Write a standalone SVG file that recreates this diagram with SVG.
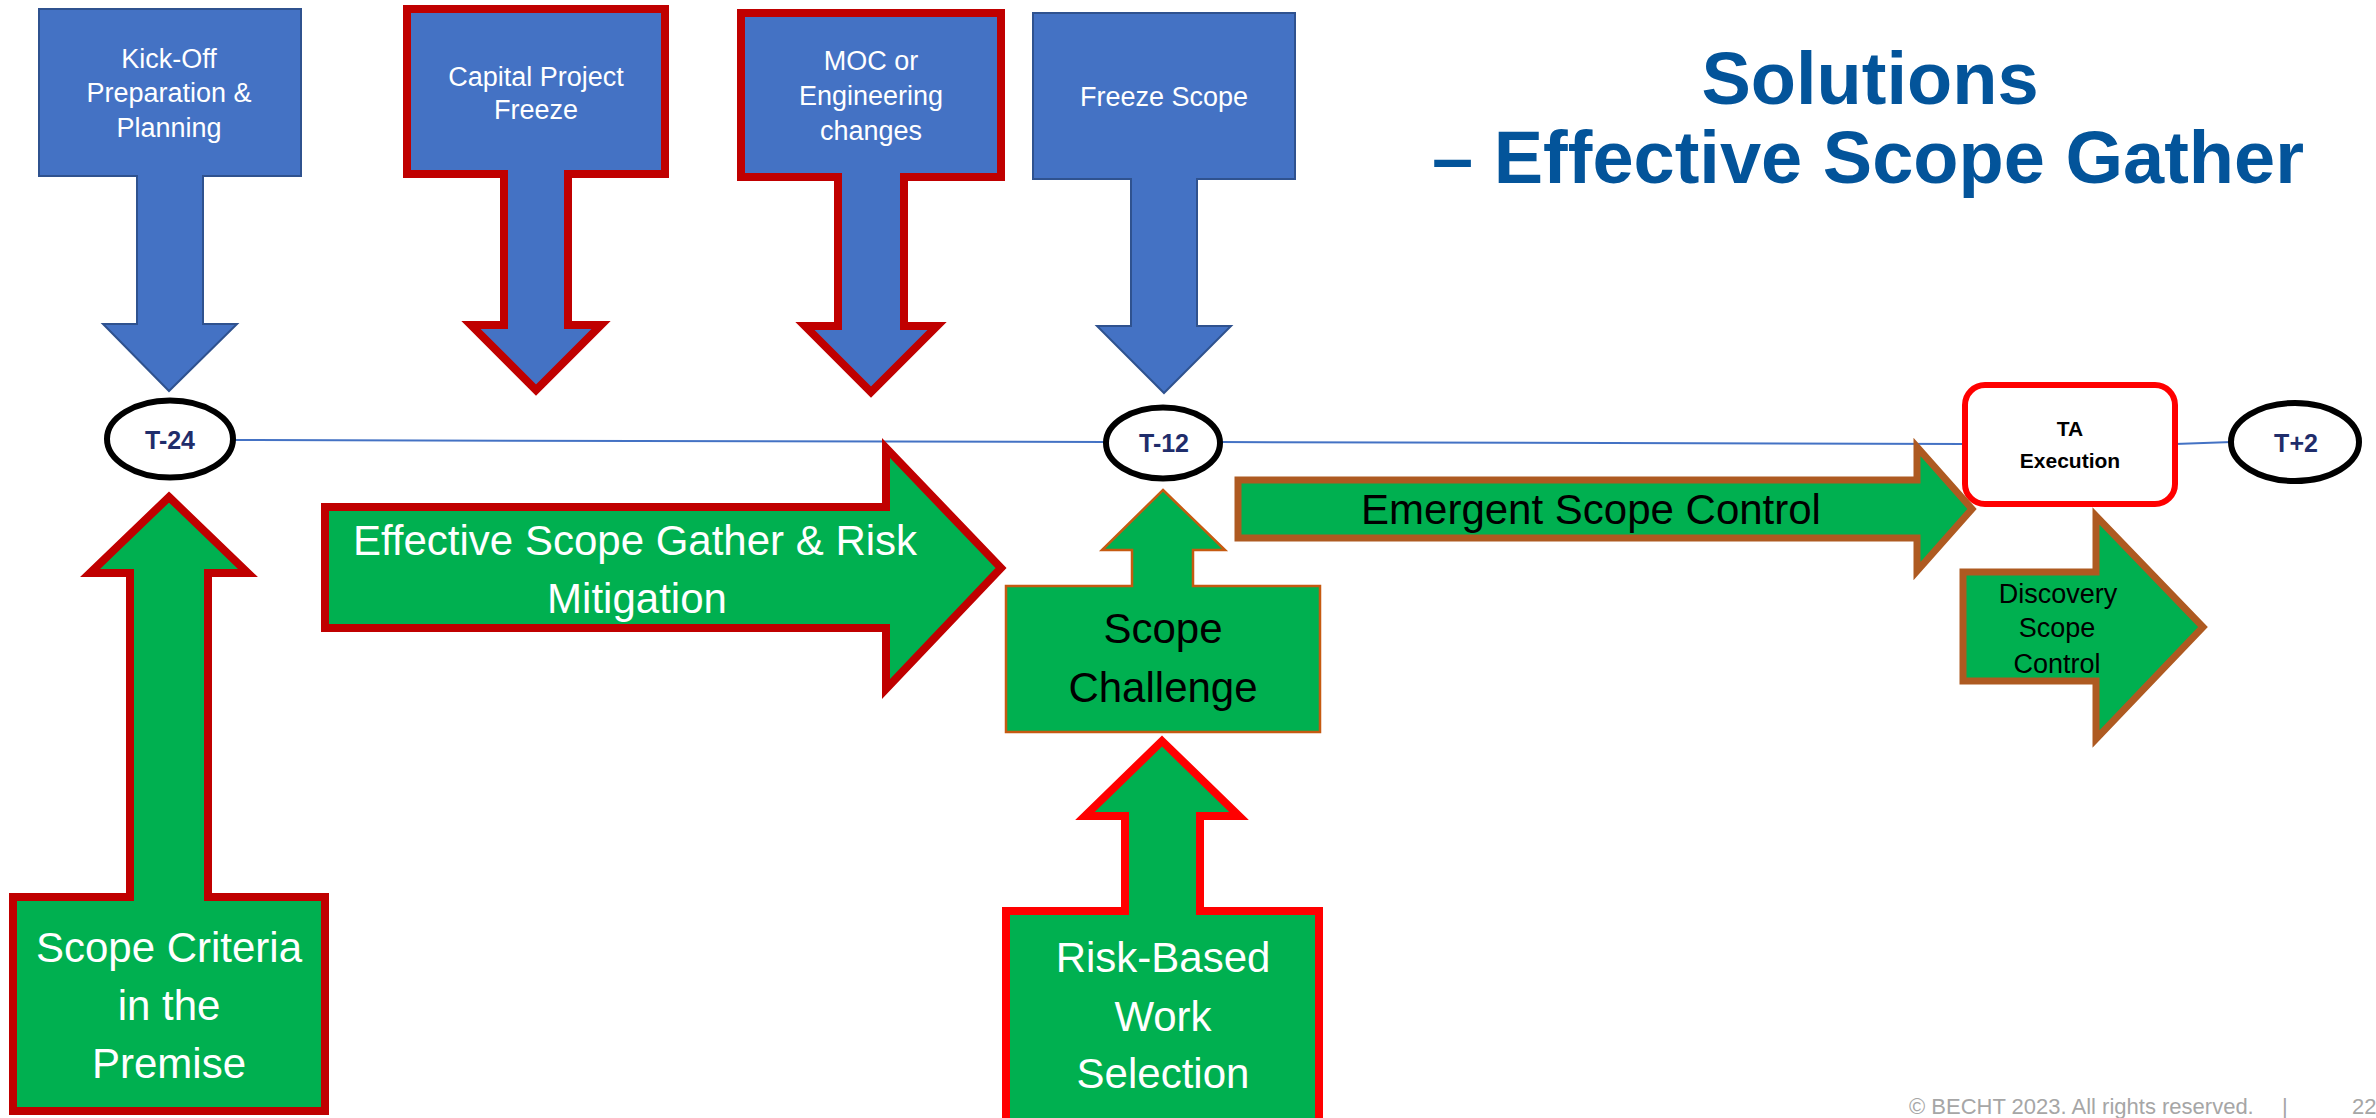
<svg xmlns="http://www.w3.org/2000/svg" width="2376" height="1118" viewBox="0 0 2376 1118">
<style>
.blue{fill:#4472C4;stroke:#2F528F;stroke-width:2}
.bluered{fill:#4472C4;stroke:#C00000;stroke-width:8}
.gdr{fill:#00B050;stroke:#C00000;stroke-width:8}
.gr{fill:#00B050;stroke:#FF0000;stroke-width:8}
.gbr{fill:#00B050;stroke:#AE5A21;stroke-width:7}
.gthin{fill:#00B050;stroke:#C55A11;stroke-width:2.5}
.ell{fill:#FFFFFF;stroke:#000000;stroke-width:6}
.tl{stroke:#4472C4;stroke-width:2;fill:none}
text{font-family:"Liberation Sans",Arial,sans-serif;text-anchor:middle}
.w27{fill:#FFFFFF;font-size:27px}
.w42{fill:#FFFFFF;font-size:42px}
.b42{fill:#000000;font-size:42px}
.b27{fill:#000000;font-size:27px}
.tlab{fill:#1F2D6B;font-size:25px;font-weight:bold}
.title{fill:#03549A;font-size:74px;font-weight:bold}
.foot{fill:#A6A6A6;font-size:22px;text-anchor:start}
</style>
<rect width="2376" height="1118" fill="#FFFFFF"/>

<g id="connectors">
<line class="tl" x1="233" y1="440" x2="1106" y2="442"/>
<line class="tl" x1="1220" y1="442" x2="1965" y2="444"/>
<line class="tl" x1="2175" y1="444" x2="2232" y2="442"/>
</g>

<g id="title">
<text class="title" x="1870" y="104">Solutions</text>
<text class="title" x="1868" y="183">– Effective Scope Gather</text>
</g>

<g id="kickoff">
<path class="blue" d="M39,9 H301 V176 H203 V324 H237 L169,391 L103,324 H137 V176 H39 Z"/>
<text class="w27" x="169" y="68">Kick-Off</text>
<text class="w27" x="169" y="102">Preparation &amp;</text>
<text class="w27" x="169" y="137">Planning</text>
</g>

<g id="capital">
<path class="bluered" d="M407,9 H665 V174 H568 V325 H601 L536,390 L471,325 H504 V174 H407 Z"/>
<text class="w27" x="536" y="86">Capital Project</text>
<text class="w27" x="536" y="119">Freeze</text>
</g>

<g id="moc">
<path class="bluered" d="M741,13 H1001 V177 H904 V326 H937 L871,392 L805,326 H838 V177 H741 Z"/>
<text class="w27" x="871" y="70">MOC or</text>
<text class="w27" x="871" y="105">Engineering</text>
<text class="w27" x="871" y="140">changes</text>
</g>

<g id="freeze">
<path class="blue" d="M1033,13 H1295 V179 H1197 V326 H1231 L1164,393 L1097,326 H1131 V179 H1033 Z"/>
<text class="w27" x="1164" y="106">Freeze Scope</text>
</g>

<g id="t24">
<ellipse class="ell" cx="170" cy="439" rx="63" ry="38.5"/>
<text class="tlab" x="170" y="449">T-24</text>
</g>

<g id="t12">
<ellipse class="ell" cx="1163" cy="443" rx="57" ry="35.5"/>
<text class="tlab" x="1164" y="452">T-12</text>
</g>

<g id="ta">
<rect x="1965" y="385" width="210" height="119" rx="20" ry="20" fill="#FFFFFF" stroke="#FF0000" stroke-width="6"/>
<text x="2070" y="436" font-size="21" font-weight="bold" fill="#000000">TA</text>
<text x="2070" y="468" font-size="21" font-weight="bold" fill="#000000">Execution</text>
</g>

<g id="t2">
<ellipse class="ell" cx="2295" cy="442" rx="64" ry="39"/>
<text class="tlab" x="2296" y="452">T+2</text>
</g>

<g id="scopecriteria">
<path class="gdr" d="M169,497 L248,573 H208 V897 H325 V1111 H13 V897 H130 V573 H90 Z"/>
<text class="w42" x="169" y="962">Scope Criteria</text>
<text class="w42" x="169" y="1020">in the</text>
<text class="w42" x="169" y="1078">Premise</text>
</g>

<g id="esg">
<path class="gdr" d="M325,507 H886 V448 L1001,568 L886,689 V628 H325 Z"/>
<text class="w42" x="635" y="555">Effective Scope Gather &amp; Risk</text>
<text class="w42" x="637" y="613">Mitigation</text>
</g>

<g id="scopechallenge">
<path class="gthin" d="M1163,490 L1225,550 H1193 V586 H1320 V732 H1006 V586 H1132 V550 H1102 Z"/>
<text class="b42" x="1163" y="643">Scope</text>
<text class="b42" x="1163" y="702">Challenge</text>
</g>

<g id="riskbased">
<path class="gr" d="M1162,741 L1239,816 H1200 V911 H1319 V1125 H1006 V911 H1125 V816 H1085 Z"/>
<text class="w42" x="1163" y="972" font-size="41">Risk-Based</text>
<text class="w42" x="1163" y="1031">Work</text>
<text class="w42" x="1163" y="1088">Selection</text>
</g>

<g id="emergent">
<path class="gbr" d="M1238,480 H1917 V447 L1972,509 L1917,571 V538 H1238 Z"/>
<text class="b42" x="1591" y="524">Emergent Scope Control</text>
</g>

<g id="discovery">
<path class="gbr" stroke-width="8" d="M1963,572 H2096 V516 L2203,627 L2096,739 V681 H1963 Z"/>
<text class="b27" x="2058" y="603">Discovery</text>
<text class="b27" x="2057" y="637">Scope</text>
<text class="b27" x="2057" y="673">Control</text>
</g>

<g id="footer">
<text class="foot" x="1909" y="1114">© BECHT 2023. All rights reserved.</text>
<text class="foot" x="2282" y="1114">|</text>
<text class="foot" x="2352" y="1114">22</text>
</g>
</svg>
